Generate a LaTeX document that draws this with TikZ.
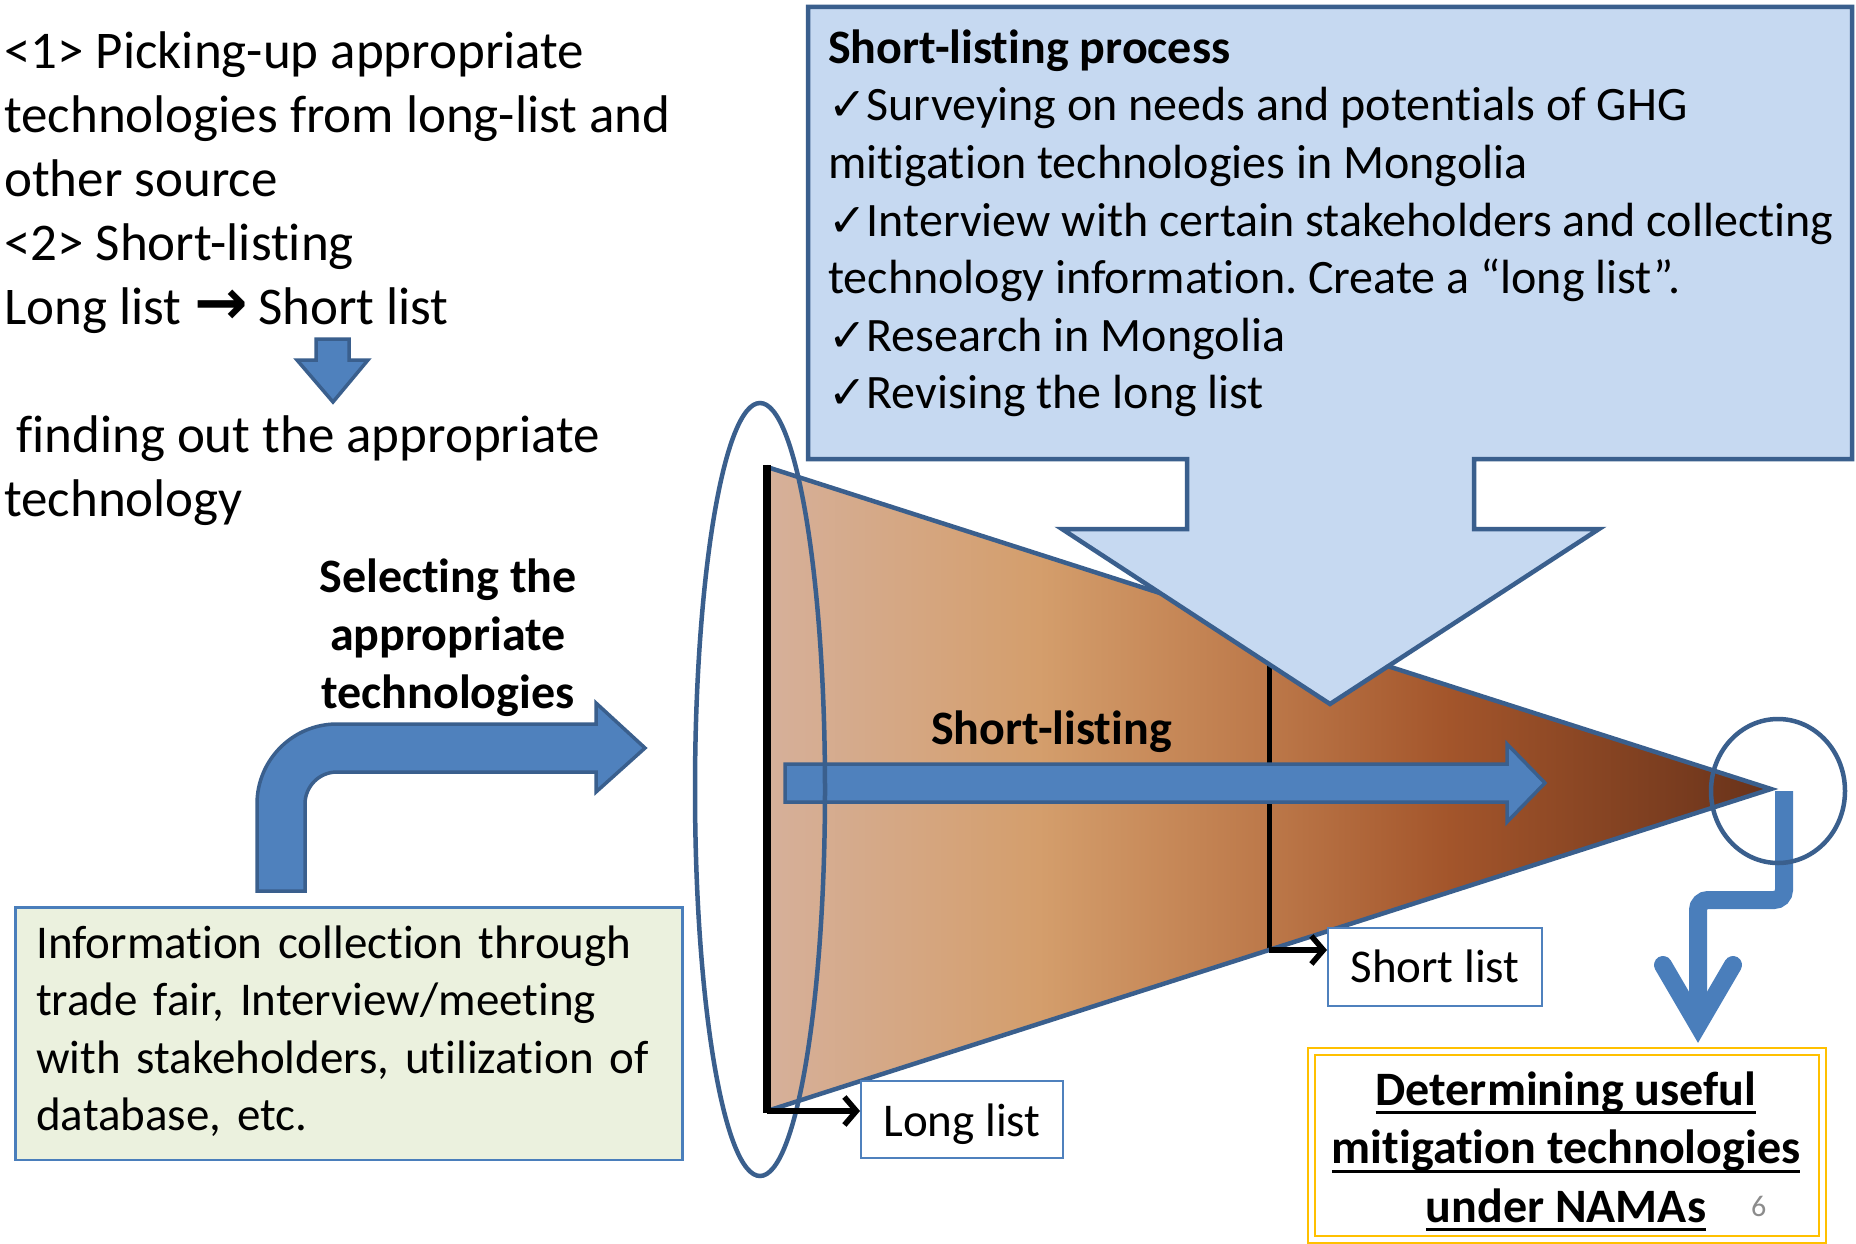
\documentclass[tikz,border=0pt]{standalone}
\usepackage{fontspec}
\setmainfont{Carlito}[Ligatures=NoCommon]
\newfontfamily\symfont{DejaVu Sans}
\usetikzlibrary{arrows.meta,shapes.geometric}
\definecolor{calloutfill}{HTML}{C6D9F1}
\definecolor{darkblue}{HTML}{3A5F8D}
\definecolor{midblue}{HTML}{4F81BD}
\definecolor{zigblue}{HTML}{4A7EBB}
\definecolor{greenfill}{HTML}{EBF1DE}
\definecolor{greenborder}{HTML}{4A7EBB}
\definecolor{gold}{HTML}{FFC000}
\definecolor{pagegray}{HTML}{8C8C8C}
\definecolor{fz}{RGB}{214,176,154}
\definecolor{fa}{RGB}{212,158,108}
\definecolor{fb}{RGB}{188,120,73}
\definecolor{fc}{RGB}{163,85,43}
\definecolor{fd}{RGB}{104,50,26}
\pgfdeclarehorizontalshading{funnelshade}{100bp}{color(0bp)=(fz); color(25bp)=(fz); color(38.5bp)=(fa); color(50bp)=(fb); color(59bp)=(fc); color(75bp)=(fd); color(100bp)=(fd)}
\newcommand{\chk}{{\symfont\fontsize{46}{46}\selectfont ✓}}
\newcommand{\rarrglyph}{{\symfont\bfseries\fontsize{64}{64}\selectfont →}}
\newsavebox{\ulbox}
\newcommand{\myul}[1]{\sbox\ulbox{#1}\rlap{\rule[-9pt]{\wd\ulbox}{3pt}}\usebox\ulbox}
\frenchspacing
\begin{document}
\begin{tikzpicture}[x=1pt,y=-1pt,
  bigtext/.style={font=\fontsize{53}{64}\selectfont, inner sep=0pt},
  bodytext/.style={font=\fontsize{47}{57.5}\selectfont, inner sep=0pt},
  calltext/.style={font=\fontsize{48}{57.6}\selectfont, inner sep=0pt},
  boldtext/.style={font=\fontsize{48}{58}\selectfont\bfseries, inner sep=0pt},
  blockarrow/.style={fill=midblue, draw=darkblue, line width=3.5pt, line join=miter},
  listbox/.style={draw=midblue, line width=2pt, fill=white, font=\fontsize{47}{57}\selectfont, inner sep=0pt},
  labelarrow/.style={line width=5.5pt, -{Straight Barb[length=12pt,width=28pt]}},
  zig/.style={draw=zigblue, line width=18pt}
]
\fill[white] (0,0) rectangle (1856,1244);
\useasboundingbox (0,0) rectangle (1856,1244);

% funnel
\shade[shading=funnelshade] (767,467) -- (1771,789) -- (767,1111) -- cycle;
\draw[black, line width=5pt] (1269,628) -- (1269,950);
\draw[darkblue, line width=4.5pt, line join=miter] (767,467) -- (1771,789) -- (767,1111);
\draw[black, line width=8pt] (767,465) -- (767,1113);

% callout
\draw[fill=calloutfill, draw=darkblue, line width=4.5pt, line join=miter]
  (808,7) -- (1852,7) -- (1852,459) -- (1474,459) -- (1474,529) -- (1599,529)
  -- (1330,704) -- (1062,529) -- (1187,529) -- (1187,459) -- (808,459) -- cycle;
\node[calltext, anchor=north west, align=left] (proc) at (828,23)
  {\rule{0pt}{40pt}\textbf{Short-listing process}\\
   \chk Surveying on needs and potentials of GHG\\
   mitigation technologies in Mongolia\\
   \chk Interview with certain stakeholders and collecting\\
   technology information. Create a “long list”.\\
   \chk Research in Mongolia\\
   \chk Revising the long list};

% short-listing arrow
\draw[blockarrow] (785,764) -- (1507,764) -- (1507,744) -- (1545,783) -- (1507,822) -- (1507,802) -- (785,802) -- cycle;
\node[boldtext, anchor=base west] (sltext) at (931,744) {Short-listing};

% big ellipse
\node[draw=darkblue, line width=4.5pt, ellipse, minimum width=130pt, minimum height=773pt, inner sep=0pt] (ring) at (760,789.5) {};

% list boxes
\node[listbox, minimum width=202pt, minimum height=77pt, text height=43pt, text depth=10pt] (ll) at (962,1119.5) {Long list};
\node[listbox, minimum width=214pt, minimum height=78pt, text height=40pt, text depth=10pt] (sl) at (1435,967) {Short list};
\coordinate (llc) at (767,1111);
\coordinate (slc) at (1269,950);
\draw[labelarrow] (llc) -- (ll.west |- llc);
\draw[labelarrow] (slc) -- (sl.west |- slc);

% zigzag arrow to goal
\coordinate (z0) at (1784,791);
\coordinate (z3) at (1698,1022);
\draw[zig, rounded corners=10pt] (z0) -- (1784,900) -- (1698,900) -- (z3);
\draw[zig, line cap=round, line join=miter] (1663,965) -- (1698,1025) -- (1733,965);
\node[draw=darkblue, line width=4.5pt, ellipse, minimum width=134pt, minimum height=144pt, inner sep=0pt] (tipc) at (1778,791) {};

% goal box
\draw[gold, line width=2.5pt] (1308,1048) rectangle (1826,1243);
\draw[gold, line width=2.5pt] (1315,1055) rectangle (1819,1236);
\node[boldtext, font=\fontsize{48}{58.5}\selectfont\bfseries, anchor=north, align=center] (goal) at (1566,1065)
  {\rule{0pt}{40pt}\myul{Determining useful}\\ \myul{mitigation technologies}\\ \myul{under NAMAs}};
\node[font=\fontsize{30}{30}\selectfont, text=pagegray, anchor=base west, inner sep=0pt] (pnum) at (1751,1216) {6};

% left texts
\node[bigtext, anchor=north west, align=left] (intro) at (4,28)
  {\rule{0pt}{40pt}<1> Picking-up appropriate\\
   technologies from long-list and\\
   other source\\
   <2> Short-listing\\
   Long list\hspace{13pt}\rarrglyph\hspace{10pt}Short list};
\draw[blockarrow] (316,339) -- (349,339) -- (349,360) -- (368,360) -- (333,402) -- (297,360) -- (316,360) -- cycle;
\node[bigtext, anchor=north west, align=left] (finding) at (4,412)
  {\rule{0pt}{40pt}~finding out the appropriate\\ technology};

\node[boldtext, anchor=north, align=center] (sel) at (448,552)
  {\rule{0pt}{40pt}Selecting the\\ appropriate\\ technologies};

% bent arrow
\draw[blockarrow] (257,891) -- (257,804) .. controls (257,759.8) and (292.8,724) .. (337,724)
  -- (596,724) -- (596,703) -- (645,748) -- (596,792) -- (596,772) -- (337,772)
  .. controls (319.3,772) and (305,786.3) .. (305,804) -- (305,891) -- cycle;

% info box
\node[bodytext, draw=greenborder, fill=greenfill, line width=2.5pt, anchor=north west, align=left,
      inner xsep=21pt, inner ysep=0pt, text width=625pt] (info) at (14,906)
  {\rule{0pt}{51pt}Information collection through\\
   trade fair, Interview/meeting\\
   with stakeholders, utilization of\\
   database, etc.\rule[-29pt]{0pt}{29pt}};
\end{tikzpicture}
\end{document}
